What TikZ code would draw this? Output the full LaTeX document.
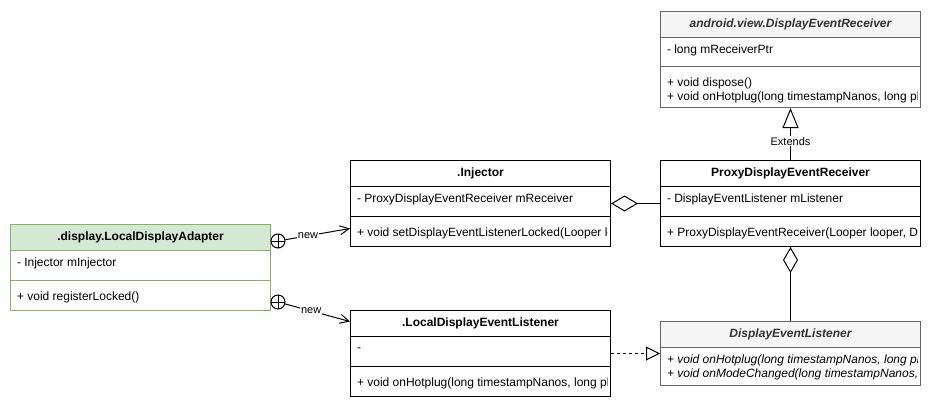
\documentclass[tikz,border=0pt]{standalone}
\usepackage{fontspec}
\setmainfont{Liberation Sans}
\usepackage{tikz}
\usetikzlibrary{arrows.meta}
\definecolor{greyline}{HTML}{666666}
\definecolor{greyfill}{HTML}{F5F5F5}
\definecolor{greytext}{HTML}{333333}
\definecolor{greenline}{HTML}{82B366}
\definecolor{greenfill}{HTML}{D5E8D4}
\tikzstyle{classbox}=[rectangle,draw=black,fill=white,minimum width=260pt,
                      inner sep=0pt,anchor=north west,font=\fontsize{12}{14}\selectfont]
\tikzstyle{classhead}=[classbox,minimum height=26pt,font=\fontsize{12}{14}\selectfont\bfseries]
\tikzstyle{abstracthead}=[classhead,draw=greyline,fill=greyfill,text=greytext,
                          font=\fontsize{12}{14}\selectfont\bfseries\itshape]
\tikzstyle{rowlabel}=[anchor=west,draw=none,fill=none,minimum width=0pt,minimum height=0pt,
                      inner sep=0pt,align=left,text=black,font=\fontsize{12}{14}\selectfont]
\tikzstyle{edgelabel}=[fill=white,inner sep=1pt,font=\fontsize{11}{13}\selectfont]
\tikzstyle{plusmark}=[circle,draw=black,fill=white,minimum size=14pt,inner sep=0pt,
                      path picture={\draw (path picture bounding box.north) -- (path picture bounding box.south)
                                          (path picture bounding box.west) -- (path picture bounding box.east);}]
\tikzset{rows/.style 2 args={path picture={
    \clip (path picture bounding box.south west) rectangle ([xshift=-3pt]path picture bounding box.north east);
    \node [rowlabel] at ([xshift=6pt,yshift=#1]path picture bounding box.west) {#2};}}}

\begin{document}
\begin{tikzpicture}[x=1pt,y=-1pt,line width=1pt]
    \useasboundingbox (0,0) rectangle (931,410);
    % android.view.DisplayEventReceiver
    \node [abstracthead] (receiver head) at (660,11) {android.view.DisplayEventReceiver};
    \node [classbox,draw=greyline,minimum height=29pt,rows={1.5pt}{- long mReceiverPtr}]
        (receiver fields) at (660,37) {};
    \node [classbox,draw=greyline,minimum height=41pt,
           rows={-3.5pt}{+ void dispose()\\+ void onHotplug(long timestampNanos, long ph}]
        (receiver methods) at (660,66) {};
    % ProxyDisplayEventReceiver
    \node [classhead] (proxy head) at (660,160) {ProxyDisplayEventReceiver};
    \node [classbox,minimum height=30pt,rows={2pt}{- DisplayEventListener mListener}]
        (proxy fields) at (660,186) {};
    \node [classbox,minimum height=30pt,rows={-2pt}{+ ProxyDisplayEventReceiver(Looper looper, Di}]
        (proxy methods) at (660,216) {};
    % .Injector
    \node [classhead] (injector head) at (350,160) {.Injector};
    \node [classbox,minimum height=30pt,rows={2pt}{- ProxyDisplayEventReceiver mReceiver}]
        (injector fields) at (350,186) {};
    \node [classbox,minimum height=30pt,rows={-2pt}{+ void setDisplayEventListenerLocked(Looper lo}]
        (injector methods) at (350,216) {};
    % .display.LocalDisplayAdapter
    \node [classhead,draw=greenline,fill=greenfill] (adapter head) at (10,224) {.display.LocalDisplayAdapter};
    \node [classbox,draw=greenline,minimum height=30pt,rows={2pt}{- Injector mInjector}]
        (adapter fields) at (10,250) {};
    \node [classbox,draw=greenline,minimum height=30pt,rows={-2pt}{+ void registerLocked()}]
        (adapter methods) at (10,280) {};
    % .LocalDisplayEventListener
    \node [classhead] (local head) at (350,310) {.LocalDisplayEventListener};
    \node [classbox,minimum height=30pt,rows={2pt}{-}] (local fields) at (350,336) {};
    \node [classbox,minimum height=30pt,rows={-2pt}{+ void onHotplug(long timestampNanos, long ph}]
        (local methods) at (350,366) {};
    % DisplayEventListener
    \node [abstracthead] (listener head) at (660,321) {DisplayEventListener};
    \node [classbox,draw=greyline,minimum height=38pt,
           rows={-0.5pt}{\itshape + void onHotplug(long timestampNanos, long ph\\
                         \itshape + void onModeChanged(long timestampNanos, lo}]
        (listener methods) at (660,347) {};

    % connectors
    \draw [-{Triangle[open,length=20pt,width=16pt]}] (proxy head.north) -- (receiver methods.south)
        node [edgelabel,pos=0.36] {Extends};
    \draw [{Diamond[open,length=27pt,width=16pt]}-] ([yshift=-2pt]injector fields.east)
        -- ([yshift=-2pt]proxy fields.west);
    \draw [{Diamond[open,length=26pt,width=15pt]}-] (proxy methods.south) -- (listener head.north);
    \draw [dashed,-{Triangle[open,length=14pt,width=14pt]}] ([yshift=-2pt]local fields.east)
        -- ([yshift=-2pt]local fields.east -| listener methods.west);
    \node [plusmark] (new injector) at (278,241) {};
    \node [plusmark] (new listener) at (278,302) {};
    \draw [-{Straight Barb[length=9pt,width=9pt]}] (new injector) -- ([yshift=3pt]injector methods.west)
        node [edgelabel,pos=0.35] {new};
    \draw [-{Straight Barb[length=9pt,width=9pt]}] (new listener) -- ([yshift=2pt]local head.west)
        node [edgelabel,pos=0.4] {new};
\end{tikzpicture}
\end{document}
